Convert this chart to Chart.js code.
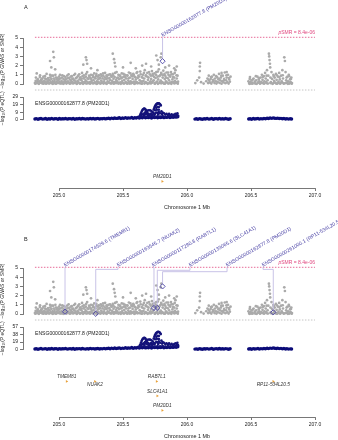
<!DOCTYPE html>
<html><head><meta charset="utf-8">
<script src="https://cdn.jsdelivr.net/npm/chart.js@4.4.1/dist/chart.umd.min.js"></script>
<style>
html,body{margin:0;padding:0;background:#fff;overflow:hidden;width:338px;height:440px;position:relative}
canvas{position:absolute;left:0}
</style></head><body>
<canvas id="gwasA" width="338" height="90" style="top:0px;width:338px;height:90px"></canvas>
<canvas id="eqtlA" width="338" height="44" style="top:84px;width:338px;height:44px"></canvas>
<canvas id="geneA" width="338" height="89" style="top:124px;width:338px;height:89px"></canvas>
<canvas id="gwasB" width="338" height="100" style="top:220px;width:338px;height:100px"></canvas>
<canvas id="eqtlB" width="338" height="44" style="top:314px;width:338px;height:44px"></canvas>
<canvas id="geneB" width="338" height="89" style="top:353px;width:338px;height:89px"></canvas>
<script>
// ---------------- DATA ----------------
const chromosome = 1;
const xTicks = [205.0, 205.5, 206.0, 206.5, 207.0];
const smrThresholdP = 8.4e-6;
const gwasTicks = [0,1,2,3,4,5];
const eqtlTicksA = [0, 9, 19, 29];
const eqtlTicksB = [0, 19, 38, 57];
const eqtlProbeName = 'ENSG00000162877.8 (PM20D1)';

// GWAS SNPs: [position Mb, -log10 P]
const gwasSNPs = [
[204.812,0.12],[204.818,0.35],[204.822,0.08],[204.826,1.15],[204.831,0.22],[204.835,0.5],[204.84,0.05],[204.846,0.3],[204.85,0.75],[204.855,0.15],[204.86,0.42],[204.866,0.1],[204.87,0.6],[204.875,0.25],[204.88,0.04],[204.886,0.33],[204.89,0.85],[204.895,0.18],[204.9,0.5],[204.906,0.07],[204.91,0.28],[204.915,0.65],[204.92,0.12],[204.926,0.4],[204.93,1.0],[204.935,0.2],[204.94,0.55],[204.946,0.09],[204.95,0.32],[204.955,0.9],[204.96,0.15],[204.966,0.45],[204.97,0.06],[204.975,0.7],[204.98,0.26],[204.986,0.5],[204.99,0.11],[204.995,0.38],[205.0,0.8],[205.006,0.2],[205.01,0.6],[205.015,0.05],[205.02,0.35],[205.026,0.95],[205.03,0.18],[205.035,0.55],[205.04,0.08],[205.046,0.42],[205.05,0.75],[205.055,0.23],[205.06,0.1],[205.066,0.62],[205.07,0.3],[205.075,1.05],[205.08,0.14],[205.086,0.48],[205.09,0.06],[205.095,0.36],[205.1,0.85],[205.106,0.2],[205.11,0.58],[205.115,0.1],[205.12,0.4],[205.126,1.1],[205.13,0.25],[205.135,0.68],[205.14,0.05],[205.146,0.33],[205.15,0.9],[205.155,0.16],[205.16,0.5],[205.166,0.72],[205.17,0.08],[205.175,0.4],[205.18,1.2],[205.186,0.22],[205.19,0.6],[205.195,0.95],[205.2,0.12],[205.206,0.45],[205.21,0.8],[205.215,0.3],[205.22,1.3],[205.226,0.07],[205.23,0.55],[205.235,0.9],[205.24,0.2],[205.246,0.65],[205.25,1.0],[205.255,0.35],[205.26,0.1],[205.266,0.75],[205.27,0.42],[205.275,1.15],[205.28,0.18],[205.286,0.6],[205.29,0.85],[205.295,0.28],[205.3,0.05],[205.306,0.5],[205.31,0.95],[205.315,0.15],[205.32,0.7],[205.326,1.05],[205.33,0.38],[205.335,0.12],[205.34,0.62],[205.346,0.9],[205.35,0.25],[205.355,0.48],[205.36,1.2],[205.366,0.08],[205.37,0.55],[205.375,0.8],[205.38,0.3],[205.386,1.0],[205.39,0.14],[205.395,0.65],[205.4,0.42],[205.406,0.9],[205.41,0.06],[205.415,0.35],[205.42,1.1],[205.426,0.58],[205.43,0.2],[205.435,0.75],[205.44,0.1],[205.446,0.45],[205.45,1.3],[205.455,0.28],[205.46,0.7],[205.466,0.05],[205.47,0.52],[205.475,0.95],[205.48,0.18],[205.486,0.62],[205.49,1.15],[205.495,0.35],[205.5,0.08],[205.506,0.8],[205.51,0.44],[205.515,1.0],[205.52,0.22],[205.526,0.6],[205.53,0.12],[205.535,0.9],[205.54,0.38],[205.546,1.25],[205.55,0.05],[205.555,0.7],[205.56,0.3],[205.566,0.95],[205.57,0.15],[205.575,0.55],[205.58,1.1],[205.586,0.25],[205.59,0.8],[205.595,0.06],[205.6,0.48],[205.606,1.2],[205.61,0.18],[205.615,0.65],[205.62,0.9],[205.626,0.1],[205.63,0.42],[205.635,1.35],[205.64,0.28],[205.646,0.75],[205.65,0.05],[205.655,1.0],[205.66,0.35],[205.666,0.6],[205.67,1.5],[205.675,0.2],[205.68,0.85],[205.686,0.12],[205.69,1.2],[205.695,0.45],[205.7,0.7],[205.706,0.08],[205.71,1.05],[205.715,0.3],[205.72,0.55],[205.726,1.4],[205.73,0.16],[205.735,0.9],[205.74,0.4],[205.746,1.15],[205.75,0.06],[205.755,0.65],[205.76,1.3],[205.766,0.25],[205.77,0.8],[205.775,0.5],[205.78,1.6],[205.786,0.12],[205.79,0.95],[205.795,0.38],[205.8,1.1],[205.806,0.2],[205.81,0.7],[205.815,1.45],[205.82,0.05],[205.826,0.55],[205.83,0.9],[205.835,0.3],[205.84,1.25],[205.846,0.15],[205.85,0.62],[205.855,1.0],[205.86,0.4],[205.866,0.08],[205.87,0.8],[205.875,1.3],[205.88,0.22],[205.886,0.5],[205.89,1.05],[205.895,0.12],[205.9,0.7],[205.906,0.35],[205.91,1.5],[205.915,0.18],[205.92,0.6],[205.926,0.9],[205.93,0.25],
[204.815,0.03],[204.828,0.15],[204.843,0.02],[204.858,0.2],[204.872,0.06],[204.884,0.14],[204.898,0.03],[204.912,0.18],[204.923,0.05],[204.938,0.1],[204.952,0.02],[204.963,0.22],[204.978,0.04],[204.992,0.16],[205.003,0.07],[205.018,0.12],[205.033,0.02],[205.043,0.25],[205.058,0.05],[205.068,0.15],[205.083,0.03],[205.098,0.2],[205.108,0.06],[205.123,0.11],[205.138,0.02],[205.148,0.18],[205.163,0.04],[205.178,0.13],[205.188,0.02],[205.203,0.2],[205.213,0.05],[205.228,0.14],[205.243,0.03],[205.253,0.22],[205.268,0.06],[205.283,0.1],[205.293,0.02],[205.308,0.17],[205.323,0.04],[205.333,0.24],[205.348,0.05],[205.363,0.12],[205.373,0.02],[205.388,0.19],[205.403,0.06],[205.413,0.15],[205.428,0.03],[205.443,0.21],[205.453,0.08],[205.468,0.13],[205.483,0.02],[205.493,0.18],[205.508,0.05],[205.523,0.12],[205.533,0.03],[205.548,0.22],[205.563,0.06],[205.573,0.15],[205.588,0.02],[205.603,0.2],[205.613,0.07],[205.628,0.11],[205.643,0.03],[205.653,0.25],[205.668,0.05],[205.678,0.14],[205.693,0.02],[205.708,0.18],[205.718,0.06],[205.733,0.3],[205.748,0.04],[205.758,0.16],[205.773,0.02],[205.788,0.22],[205.798,0.07],[205.813,0.12],[205.828,0.03],[205.838,0.19],[205.853,0.05],[205.868,0.14],[205.878,0.02],[205.893,0.21],[205.903,0.06],[205.918,0.15],[205.928,0.04],
[204.82,0.7],[204.833,0.45],[204.852,0.95],[204.864,0.55],[204.878,0.8],[204.892,0.6],[204.903,1.1],[204.918,0.48],[204.932,0.72],[204.944,0.9],[204.958,0.6],[204.972,1.0],[204.984,0.68],[204.998,0.52],[205.008,1.0],[205.022,0.7],[205.038,0.85],[205.052,0.5],[205.064,0.92],[205.078,0.66],[205.092,0.8],[205.104,0.55],[205.118,0.98],[205.132,0.62],[205.144,0.78],[205.158,1.05],[205.172,0.58],[205.184,0.85],[205.198,0.7],[205.212,1.1],[205.224,0.62],[205.238,0.78],[205.252,0.55],[205.264,0.95],[205.278,0.7],[205.292,1.1],[205.304,0.8],[205.318,0.6],[205.332,0.88],[205.344,1.15],[205.358,0.72],[205.372,0.95],[205.384,0.6],[205.398,1.05],[205.412,0.78],[205.424,0.92],[205.438,1.2],[205.452,0.65],[205.464,1.0],[205.478,0.82],[205.492,0.7],[205.504,1.1],[205.518,0.75],[205.532,0.95],[205.544,0.62],[205.558,1.15],[205.572,0.85],[205.584,1.0],[205.598,0.72],[205.612,1.3],[205.624,0.8],[205.638,1.05],[205.652,0.7],[205.664,1.2],[205.678,0.95],[205.692,0.78],[205.704,1.3],[205.718,0.9],[205.732,1.1],[205.744,0.75],[205.758,1.0],[205.772,1.35],[205.784,0.85],[205.798,1.2],[205.812,0.95],[205.824,1.1],[205.838,0.7],[205.852,1.25],[205.864,0.88],[205.878,1.05],[205.892,0.75],[205.904,1.2],[205.918,0.95],
[204.93,2.5],[204.955,3.5],[204.96,2.9],[204.94,1.8],[204.97,1.6],[205.19,2.1],[205.21,2.9],[205.215,2.6],[205.22,2.2],[205.25,1.7],[205.3,1.5],[205.42,3.3],[205.43,2.7],[205.435,2.3],[205.44,1.9],[205.5,1.8],[205.56,2.3],[205.6,1.7],[205.65,2.0],[205.68,2.2],[205.72,1.9],[205.76,3.1],[205.77,2.6],[205.78,2.1],[205.8,3.3],[205.795,2.9],[205.83,1.8],[205.86,2.0],[205.9,1.7],[205.92,1.9],
[206.065,0.1],[206.08,0.4],[206.095,0.7],[206.1,1.4],[206.1,1.9],[206.102,2.3],[206.11,0.2],[206.13,0.05],[206.15,0.3],[206.16,0.6],[206.165,0.1],[206.17,0.9],[206.175,0.35],[206.18,0.15],[206.185,0.55],[206.19,0.05],[206.195,0.8],[206.2,0.25],[206.205,0.45],[206.21,1.0],[206.215,0.1],[206.22,0.6],[206.225,0.3],[206.23,0.05],[206.235,0.75],[206.24,0.2],[206.245,0.5],[206.25,1.1],[206.255,0.12],[206.26,0.4],[206.265,0.7],[206.27,0.04],[206.275,0.3],[206.28,0.9],[206.285,0.18],[206.29,0.55],[206.295,1.25],[206.3,0.08],[206.305,0.4],[206.31,0.7],[206.315,0.2],[206.32,1.0],[206.325,0.05],[206.33,0.5],[206.335,0.25],[206.34,0.8],[206.31,1.3],[206.27,1.2],
[206.168,0.45],[206.188,0.75],[206.208,0.35],[206.228,0.85],[206.248,0.6],[206.268,0.9],[206.288,0.4],[206.308,0.95],[206.328,0.65],
[206.48,0.3],[206.485,0.1],[206.49,0.55],[206.495,0.2],[206.5,0.05],[206.505,0.4],[206.51,0.15],[206.52,0.6],[206.53,0.25],[206.535,0.05],[206.54,0.4],[206.55,0.8],[206.555,0.15],[206.56,0.5],[206.565,0.3],[206.57,0.05],[206.575,0.7],[206.58,0.2],[206.585,1.0],[206.59,0.45],[206.595,0.1],[206.6,0.85],[206.605,0.3],[206.61,1.2],[206.615,0.6],[206.62,0.1],[206.625,1.5],[206.63,0.4],[206.635,0.9],[206.64,3.3],[206.642,3.0],[206.645,2.6],[206.648,2.2],[206.65,1.8],[206.655,0.2],[206.66,1.3],[206.665,0.55],[206.67,0.05],[206.675,1.0],[206.68,0.35],[206.685,0.7],[206.69,0.15],[206.695,1.1],[206.7,0.45],[206.705,0.05],[206.71,0.8],[206.715,0.25],[206.72,1.2],[206.725,0.5],[206.73,0.1],[206.735,0.9],[206.74,0.3],[206.745,1.5],[206.75,0.6],[206.755,0.05],[206.76,2.9],[206.765,2.5],[206.77,1.3],[206.775,0.4],[206.78,0.15],[206.785,0.8],[206.79,0.3],[206.795,1.0],[206.8,0.05],[206.805,0.5],[206.81,0.2],[206.815,0.7],[206.82,0.1],
[206.488,0.02],[206.498,0.12],[206.512,0.04],[206.528,0.1],[206.545,0.02],[206.558,0.18],[206.572,0.06],[206.588,0.12],[206.602,0.03],[206.618,0.2],[206.632,0.05],[206.652,0.1],[206.668,0.02],[206.682,0.15],[206.698,0.04],[206.712,0.12],[206.728,0.03],[206.742,0.18],[206.758,0.06],[206.772,0.1],[206.788,0.02],[206.802,0.14],[206.818,0.04],
[206.492,0.75],[206.515,0.5],[206.538,0.85],[206.562,0.65],[206.592,0.75],[206.622,0.9],[206.652,0.7],[206.678,0.85],[206.702,0.95],[206.722,0.75],[206.748,0.95],[206.778,0.7],[206.798,0.85],[206.812,0.55]
];

// SMR probes (panel A)
const probeNamesA = ['ENSG00000162877.8 (PM20D1)'];
const probePosA = [205.809];
const probeSmrA = [2.48];
const probeLabelPosA = [205.809];
const probeBendA = [5.08];
// SMR probes (panel B)
const probeNamesB = ['ENSG00000174529.6 (TMEM81)','ENSG00000163545.7 (NUAK2)','ENSG00000117280.8 (RAB7L1)','ENSG00000133065.6 (SLC41A1)','ENSG00000162877.8 (PM20D1)','ENSG00000261000.1 (RP11-534L20.5)'];
const probePosB = [205.047, 205.287, 205.742, 205.768, 205.809, 206.674];
const probeSmrB = [0.25, 0.02, 0.66, 0.66, 3.0, 0.18];
const probeLabelPosB = [205.047, 205.461, 205.734, 206.023, 206.313, 206.594];
const probeBendB = [5.08, 4.85, 5.08, 4.75, 4.6, 4.85];

// eQTL baseline SNPs
const eqtlBasePos = [204.812,204.823,204.836,204.848,204.859,204.871,204.884,204.895,204.907,204.92,204.931,204.943,204.956,204.967,204.979,204.992,205.003,205.015,205.028,205.039,205.051,205.064,205.075,205.087,205.1,205.111,205.123,205.136,205.147,205.159,205.172,205.183,205.195,205.208,205.219,205.231,205.244,205.255,205.267,205.28,205.291,205.303,205.316,205.327,205.339,205.352,205.363,205.375,205.388,205.399,205.411,205.424,205.435,205.447,205.46,205.471,205.483,205.496,205.507,205.519,205.532,205.543,205.555,205.568,205.579,205.591,205.604,205.615,205.627,205.64,205.651,205.663,205.676,205.687,205.699,205.712,205.723,205.735,205.748,205.759,205.771,205.784,205.795,205.807,205.82,205.831,205.843,205.856,205.867,205.879,205.892,205.903,205.915,205.928,
206.062,206.073,206.085,206.098,206.109,206.121,206.134,206.145,206.157,206.17,206.181,206.193,206.206,206.217,206.229,206.242,206.253,206.265,206.278,206.289,206.301,206.314,206.325,206.337,
206.482,206.493,206.505,206.518,206.529,206.541,206.554,206.565,206.577,206.59,206.601,206.613,206.626,206.637,206.649,206.662,206.673,206.685,206.698,206.709,206.721,206.734,206.745,206.757,206.77,206.781,206.793,206.806,206.817];
const eqtlBaseA = [0.6,1.1,0.4,0.9,1.3,0.5,0.8,1.2,0.3,1.0,0.7,1.4,0.5,0.9,1.1,0.4,1.2,0.6,1.0,0.8,1.3,0.5,0.9,1.1,0.7,1.4,0.4,1.0,0.8,1.2,0.6,1.3,0.9,0.5,1.1,0.7,1.5,0.8,1.2,0.6,1.0,1.4,0.7,1.1,0.9,1.5,0.8,1.3,1.6,1.0,1.8,1.2,2.0,1.4,1.7,2.2,1.3,1.9,1.5,2.4,1.6,2.1,1.8,2.6,1.5,2.3,2.0,2.8,1.9,2.5,2.2,3.0,2.1,2.7,2.4,3.2,2.0,2.9,2.5,3.1,2.2,2.8,2.6,3.3,2.4,3.0,2.7,3.4,2.5,3.1,2.8,3.5,3.0,3.6,
0.5,0.9,0.4,1.1,0.7,0.3,1.0,0.6,1.2,0.5,0.8,1.3,0.4,0.9,1.1,0.6,1.4,0.7,1.0,0.5,1.2,0.8,0.4,1.0,
0.6,1.0,0.4,1.2,0.7,0.9,1.3,0.5,1.1,0.8,1.4,1.0,1.6,1.2,1.9,1.5,2.1,1.7,1.4,1.8,1.2,1.5,0.9,1.3,0.7,1.1,0.5,0.9,0.6];
const eqtlBaseB = [1.2,2.0,0.8,1.7,2.5,1.0,1.6,2.3,0.6,1.9,1.4,2.7,1.0,1.8,2.1,0.8,2.3,1.2,1.9,1.6,2.5,1.0,1.7,2.1,1.4,2.7,0.8,1.9,1.6,2.3,1.2,2.5,1.7,1.0,2.1,1.4,2.9,1.6,2.3,1.2,1.9,2.7,1.4,2.1,1.7,2.9,1.6,2.5,3.1,1.9,3.4,2.3,3.8,2.7,3.2,4.2,2.5,3.6,2.9,4.6,3.1,4.0,3.4,5.0,2.9,4.4,3.8,5.3,3.6,4.8,4.2,5.7,4.0,5.1,4.6,6.1,3.8,5.5,4.8,5.9,4.2,5.3,5.0,6.3,4.6,5.7,5.1,6.5,4.8,5.9,5.3,6.7,5.7,6.9,
1.0,1.7,0.8,2.1,1.4,0.6,1.9,1.2,2.3,1.0,1.6,2.5,0.8,1.7,2.1,1.2,2.7,1.4,1.9,1.0,2.3,1.6,0.8,1.9,
1.2,1.9,0.8,2.3,1.4,1.7,2.5,1.0,2.1,1.6,2.7,1.9,3.0,2.3,3.6,2.9,4.0,3.2,2.7,3.4,2.3,2.9,1.7,2.5,1.4,2.1,1.0,1.7,1.2];
// eQTL peak SNPs: [position Mb, -log10 P (A), -log10 P (B)]
const eqtlPeakSNPs = [
[205.620,3.0,6.5],[205.630,4.5,9.5],[205.635,6.0,12.5],[205.640,8.0,17.0],[205.645,10.0,21.5],[205.650,11.5,24.5],[205.655,12.8,27.0],[205.660,13.6,28.5],[205.665,14.0,29.5],[205.670,13.8,29.0],[205.675,13.0,27.5],[205.680,11.8,25.0],[205.685,10.2,22.0],[205.690,8.5,18.5],
[205.672,9.0,19.0],[205.682,10.5,22.5],[205.692,11.5,24.5],[205.702,12.0,25.5],[205.712,11.8,25.0],[205.722,11.0,23.5],[205.732,9.5,20.5],
[205.740,13.0,28.0],[205.745,15.0,32.5],[205.750,17.0,36.5],[205.755,18.5,39.5],[205.760,19.5,41.5],[205.765,20.3,43.0],[205.770,20.8,44.5],[205.775,21.0,45.0],[205.780,20.8,44.5],[205.785,20.3,43.5],[205.790,19.5,41.5],[205.795,18.2,39.0],
[205.760,15.0,32.0],[205.770,16.5,35.0],[205.780,16.0,34.0],[205.750,12.0,26.0],[205.765,12.5,27.0],[205.780,12.5,26.5],
[205.640,5.0,10.5],[205.650,6.5,14.0],[205.660,7.5,16.0],[205.665,5.5,12.0],[205.670,6.8,14.5],[205.680,7.5,16.0],[205.690,6.0,13.0],[205.700,7.2,15.5],[205.705,5.0,11.0],[205.710,6.5,14.0],[205.720,7.8,16.5],[205.725,5.5,12.0],[205.730,6.2,13.5],[205.740,8.0,17.0],[205.745,6.0,13.0],[205.750,7.5,16.0],[205.760,9.0,19.5],[205.770,8.5,18.0],[205.775,6.5,14.0],[205.780,9.5,20.5],[205.790,8.0,17.0],[205.800,10.5,22.5],[205.805,7.0,15.0],[205.810,9.0,19.0],[205.820,8.0,17.0],[205.830,6.5,14.0],[205.840,7.5,16.0],[205.850,6.0,13.0],[205.860,7.2,15.5],[205.870,5.5,12.0],[205.880,6.8,14.5],[205.890,5.0,11.0],[205.900,6.5,14.0],[205.910,7.5,16.0],[205.920,6.0,13.0],[205.925,8.0,17.0],[205.930,5.0,11.0],
[205.630,2.5,5.5],[205.650,3.5,7.5],[205.670,3.8,8.0],[205.690,3.2,7.0],[205.710,3.6,7.5],[205.730,4.0,8.5],[205.750,3.5,7.5],[205.770,4.2,9.0],[205.790,3.8,8.0],[205.810,4.5,9.5],[205.830,3.6,7.5],[205.850,4.0,8.5],[205.870,3.4,7.0],[205.890,3.8,8.0],[205.910,4.2,9.0],[205.920,3.5,7.5]
];

// Genes
const geneNamesA = ['PM20D1'];
const genePosA = [205.807];
const geneRowA = [2];
const geneLabelSideA = ['above'];
const geneNamesB = ['TMEM81','NUAK2','RAB7L1','RP11-534L20.5','SLC41A1','PM20D1'];
const genePosB = [205.060, 205.281, 205.763, 206.674, 205.768, 205.807];
const geneRowB = [0, 0, 0, 0, 1, 2];
const geneLabelSideB = ['above','below','above','below','above','above'];

// ---------------- STYLE / LAYOUT ----------------
const FONT = '"Liberation Sans", Arial, Helvetica, sans-serif';
Chart.defaults.font.family = FONT;
Chart.defaults.color = '#222';
const X_MIN = 205 - 36/128, X_MAX = 205 + 261/128;
const AXIS = '#555';
const PROBE_COL = '#4a42a6';
const LINK_COL = '#c3bce4';
const THR_COL = '#e0457e';
const smrThreshold = -Math.log10(smrThresholdP);
const dataStart = Math.min(...gwasSNPs.map(d => d[0]));

function yAxis(min, max, title, ticksArr, width) {
  return {
    min, max, position: 'left',
    afterFit(s) { s.width = width; },
    afterBuildTicks(s) { s.ticks = ticksArr.map(v => ({ value: v })); },
    ticks: { font: { size: 5 }, color: '#222', padding: 2, autoSkip: false },
    grid: { drawOnChartArea: false, drawTicks: true, tickLength: 3, color: AXIS, lineWidth: 0.8 },
    border: { display: true, color: AXIS, width: 0.8 },
    title: { display: true, text: title, font: { size: 5 }, color: '#222', padding: 0 }
  };
}

function gwasChart(id, padTop, letter, letterY, names, pos, smr, labelPos, bend) {
  const probes = pos.map((p, i) => ({ x: p, y: smr[i] }));
  const overlay = {
    id: 'smrOverlay',
    beforeDatasetDraw(chart, args) {
      if (args.index !== 1) return;
      const { ctx } = chart, xs = chart.scales.x, ys = chart.scales.y;
      const yT = ys.getPixelForValue(smrThreshold);
      ctx.save();
      ctx.strokeStyle = THR_COL; ctx.lineWidth = 0.8; ctx.setLineDash([1.5, 1.5]);
      ctx.beginPath(); ctx.moveTo(xs.getPixelForValue(dataStart), yT); ctx.lineTo(xs.getPixelForValue(207), yT); ctx.stroke();
      ctx.setLineDash([]);
      ctx.strokeStyle = LINK_COL; ctx.lineWidth = 0.9;
      pos.forEach((p, i) => {
        const px = xs.getPixelForValue(p), py = ys.getPixelForValue(smr[i]);
        const lx = xs.getPixelForValue(labelPos[i]), by = ys.getPixelForValue(bend[i]);
        ctx.beginPath(); ctx.moveTo(px, py - 2.5); ctx.lineTo(px, by); ctx.lineTo(lx, by); ctx.lineTo(lx, yT); ctx.stroke();
      });
      ctx.restore();
    },
    afterDraw(chart) {
      const { ctx } = chart, xs = chart.scales.x, ys = chart.scales.y;
      const yT = ys.getPixelForValue(smrThreshold);
      ctx.save();
      ctx.fillStyle = PROBE_COL; ctx.font = '5.1px ' + FONT; ctx.textBaseline = 'alphabetic';
      names.forEach((n, i) => {
        ctx.save();
        ctx.translate(xs.getPixelForValue(labelPos[i]), yT - 0.5);
        ctx.rotate(-30 * Math.PI / 180);
        ctx.fillText(n, 0, 0);
        ctx.restore();
      });
      // threshold label
      ctx.fillStyle = THR_COL; ctx.textBaseline = 'bottom';
      const rest = 'SMR = ' + smrThresholdP.toExponential(1).replace('e-6', 'e-06');
      ctx.font = '5px ' + FONT;
      const wRest = ctx.measureText(rest).width;
      ctx.font = 'italic 5px ' + FONT;
      const wP = ctx.measureText('p').width;
      const xr = xs.getPixelForValue(207);
      ctx.fillText('p', xr - wRest - wP, yT - 2);
      ctx.font = '5px ' + FONT;
      ctx.fillText(rest, xr - wRest, yT - 2);
      // panel letter
      ctx.fillStyle = '#222'; ctx.font = '5.5px ' + FONT; ctx.textBaseline = 'middle';
      ctx.fillText(letter, 24, letterY);
      ctx.restore();
    }
  };
  return new Chart(document.getElementById(id), {
    type: 'scatter',
    data: { datasets: [
      { data: gwasSNPs.map(d => ({ x: d[0], y: d[1] })), backgroundColor: '#aaaaaa', pointRadius: 1.35, borderWidth: 0, clip: false, order: 2 },
      { data: probes, pointStyle: 'rectRot', pointRadius: 2.6, borderColor: PROBE_COL, backgroundColor: 'rgba(0,0,0,0)', borderWidth: 0.9, clip: false, order: 1 }
    ]},
    options: {
      responsive: false, animation: false, events: [], devicePixelRatio: 1,
      layout: { padding: { top: padTop, bottom: 6, left: 0, right: 18 } },
      plugins: { legend: { display: false }, tooltip: { enabled: false } },
      scales: {
        x: { type: 'linear', min: X_MIN, max: X_MAX, display: false },
        y: yAxis(0, 5, '\u2212log\u2081\u2080(P GWAS or SMR)', gwasTicks, 23)
      }
    },
    plugins: [overlay]
  });
}

function eqtlChart(id, valuesBase, peakIdx, maxY, ticksArr) {
  const pts = eqtlBasePos.map((p, i) => ({ x: p, y: valuesBase[i] }));
  const peak = eqtlPeakSNPs.map(d => ({ x: d[0], y: d[peakIdx] }));
  const overlay = {
    id: 'eqtlOverlay',
    afterDraw(chart) {
      const { ctx, chartArea } = chart, xs = chart.scales.x;
      ctx.save();
      ctx.strokeStyle = '#b5b5b5'; ctx.lineWidth = 0.8; ctx.setLineDash([1.5, 1.5]);
      const yS = chartArea.top - 7;
      ctx.beginPath(); ctx.moveTo(xs.getPixelForValue(dataStart), yS); ctx.lineTo(xs.getPixelForValue(207), yS); ctx.stroke();
      ctx.setLineDash([]);
      ctx.fillStyle = '#222'; ctx.font = '5.1px ' + FONT; ctx.textBaseline = 'middle';
      ctx.fillText(eqtlProbeName, chartArea.left + 12, chartArea.top + 7);
      ctx.restore();
    }
  };
  return new Chart(document.getElementById(id), {
    type: 'scatter',
    data: { datasets: [
      { data: peak, backgroundColor: '#14137a', pointRadius: 1.3, borderWidth: 0, clip: false },
      { data: pts, backgroundColor: '#0b0b78', pointRadius: 1.7, borderWidth: 0, clip: false }
    ]},
    options: {
      responsive: false, animation: false, events: [], devicePixelRatio: 1,
      layout: { padding: { top: 13, bottom: 8.5, left: 0, right: 18 } },
      plugins: { legend: { display: false }, tooltip: { enabled: false } },
      scales: {
        x: { type: 'linear', min: X_MIN, max: X_MAX, display: false },
        y: yAxis(0, maxY, '\u2212log\u2081\u2080(P eQTL)', ticksArr, 23)
      }
    },
    plugins: [overlay]
  });
}

function geneChart(id, names, pos, rows, sides) {
  const overlay = {
    id: 'geneLabels',
    afterDatasetsDraw(chart) {
      const { ctx } = chart, xs = chart.scales.x, ys = chart.scales.y;
      ctx.save();
      ctx.fillStyle = '#333'; ctx.font = 'italic 4.8px ' + FONT; ctx.textAlign = 'center'; ctx.textBaseline = 'middle';
      names.forEach((n, i) => {
        const y = ys.getPixelForValue(rows[i]) + (sides[i] === 'above' ? -4.3 : 3.3);
        ctx.fillText(n, xs.getPixelForValue(pos[i]), y);
      });
      ctx.restore();
    }
  };
  return new Chart(document.getElementById(id), {
    type: 'scatter',
    data: { datasets: [
      { data: pos.map((p, i) => ({ x: p, y: rows[i] })), pointStyle: 'triangle', rotation: 90, pointRadius: 1.6, backgroundColor: '#e8a13a', borderWidth: 0, clip: false }
    ]},
    options: {
      responsive: false, animation: false, events: [], devicePixelRatio: 1,
      layout: { padding: { top: 0, bottom: 0, left: 59, right: 23 } },
      plugins: { legend: { display: false }, tooltip: { enabled: false } },
      scales: {
        x: {
          type: 'linear', min: xTicks[0], max: xTicks[xTicks.length - 1], position: 'bottom',
          afterFit(s) { s.height = 25; },
          afterBuildTicks(s) { s.ticks = xTicks.map(v => ({ value: v })); },
          ticks: { font: { size: 5 }, color: '#222', padding: 2, maxRotation: 0, autoSkip: false, callback: v => Number(v).toFixed(1) },
          grid: { drawOnChartArea: false, drawTicks: true, tickLength: 3, color: AXIS, lineWidth: 0.8 },
          border: { display: true, color: AXIS, width: 0.8 },
          title: { display: true, text: 'Chromosome ' + chromosome + ' Mb', font: { size: 5.4 }, color: '#222', padding: { top: 0, bottom: 2 } }
        },
        y: { display: false, reverse: true, min: -1.68, max: 2.45 }
      }
    },
    plugins: [overlay]
  });
}

gwasChart('gwasA', 38, 'A', 7, probeNamesA, probePosA, probeSmrA, probeLabelPosA, probeBendA);
eqtlChart('eqtlA', eqtlBaseA, 1, 29, eqtlTicksA);
geneChart('geneA', geneNamesA, genePosA, geneRowA, geneLabelSideA);
gwasChart('gwasB', 48, 'B', 19, probeNamesB, probePosB, probeSmrB, probeLabelPosB, probeBendB);
eqtlChart('eqtlB', eqtlBaseB, 2, 57, eqtlTicksB);
geneChart('geneB', geneNamesB, genePosB, geneRowB, geneLabelSideB);
</script>
</body></html>
